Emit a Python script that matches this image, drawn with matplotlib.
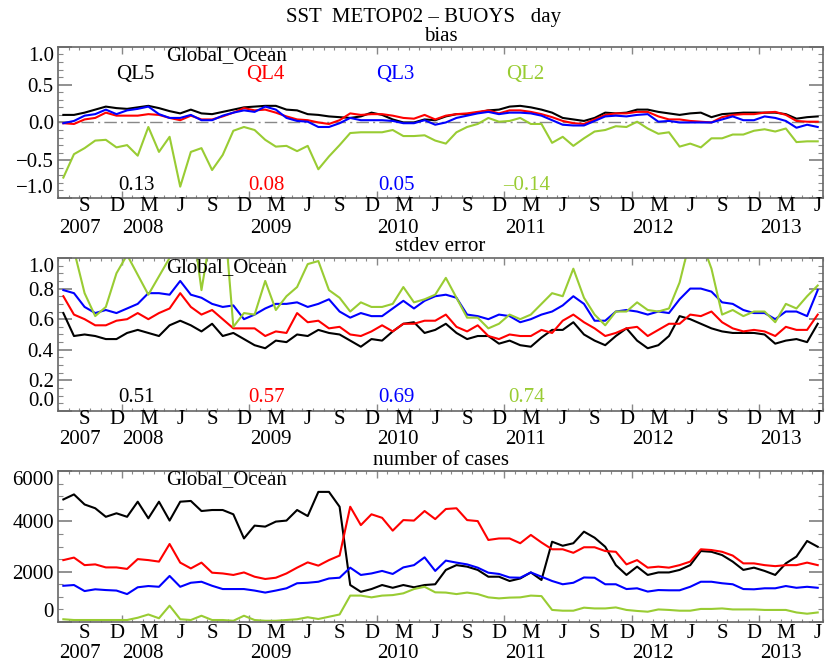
import numpy as np
import matplotlib.pyplot as plt
from matplotlib.ticker import MultipleLocator, FixedLocator

plt.rcParams['font.family'] = ['Liberation Serif', 'DejaVu Serif']
plt.rcParams['font.size'] = 15

# monthly values, Jul 2007 .. Jun 2013
start_year, start_month = 2007, 7
n_months = 72

names = ['QL5', 'QL4', 'QL3', 'QL2']
colors = ['black', '#ff0000', '#0000ff', '#99cc33']

bias_ql5 = [0.10, 0.10, 0.13, 0.17, 0.21, 0.19, 0.18, 0.20, 0.22, 0.19, 0.15, 0.12,
            0.17, 0.12, 0.11, 0.14, 0.17, 0.20, 0.21, 0.22, 0.22, 0.17, 0.16, 0.11,
            0.10, 0.08, 0.07, 0.06, 0.08, 0.13, 0.10, 0.04, 0.00, 0.00, 0.04, 0.03,
            0.08, 0.11, 0.11, 0.13, 0.16, 0.17, 0.21, 0.22, 0.20, 0.17, 0.13, 0.06,
            0.04, 0.02, 0.06, 0.13, 0.12, 0.13, 0.17, 0.17, 0.14, 0.12, 0.10, 0.12,
            0.13, 0.07, 0.11, 0.12, 0.13, 0.13, 0.13, 0.13, 0.11, 0.05, 0.07, 0.08]
bias_ql4 = [-0.01, -0.02, 0.04, 0.06, 0.13, 0.09, 0.09, 0.09, 0.11, 0.10, 0.06, 0.03,
            0.09, 0.04, 0.04, 0.08, 0.13, 0.19, 0.16, 0.17, 0.13, 0.08, 0.04, 0.03,
            0.00, -0.02, 0.03, 0.12, 0.10, 0.11, 0.11, 0.09, 0.06, 0.05, 0.10, 0.04,
            0.09, 0.11, 0.12, 0.14, 0.16, 0.12, 0.16, 0.16, 0.14, 0.11, 0.07, 0.02,
            -0.01, -0.02, 0.04, 0.10, 0.12, 0.12, 0.14, 0.14, 0.08, 0.04, 0.04, 0.02,
            0.01, 0.00, 0.07, 0.10, 0.11, 0.11, 0.13, 0.14, 0.10, 0.02, 0.01, 0.01]
bias_ql3 = [-0.01, 0.02, 0.09, 0.11, 0.17, 0.11, 0.16, 0.18, 0.21, 0.11, 0.06, 0.06,
            0.10, 0.03, 0.03, 0.09, 0.13, 0.16, 0.14, 0.21, 0.17, 0.06, 0.02, 0.01,
            -0.06, -0.06, -0.01, 0.06, 0.03, 0.03, 0.03, 0.02, -0.01, -0.01, 0.03, -0.03,
            0.00, 0.06, 0.09, 0.12, 0.14, 0.11, 0.13, 0.13, 0.12, 0.09, 0.03, -0.03,
            -0.04, -0.04, 0.02, 0.08, 0.09, 0.08, 0.10, 0.11, 0.01, 0.02, 0.00, 0.00,
            0.00, 0.00, 0.04, 0.08, 0.03, 0.03, 0.08, 0.06, 0.02, -0.07, -0.03, -0.06]
bias_ql2 = [-0.73, -0.42, -0.34, -0.24, -0.23, -0.33, -0.30, -0.44, -0.06, -0.39, -0.19, -0.85,
            -0.39, -0.34, -0.63, -0.43, -0.11, -0.06, -0.10, -0.23, -0.32, -0.31, -0.38, -0.31,
            -0.62, -0.45, -0.30, -0.14, -0.13, -0.13, -0.13, -0.10, -0.18, -0.18, -0.17, -0.24,
            -0.28, -0.13, -0.06, -0.02, 0.06, 0.01, 0.02, 0.06, -0.02, -0.02, -0.27, -0.19,
            -0.31, -0.21, -0.12, -0.10, -0.05, -0.06, 0.01, -0.08, -0.15, -0.13, -0.32, -0.28,
            -0.33, -0.21, -0.21, -0.16, -0.16, -0.11, -0.09, -0.12, -0.08, -0.26, -0.25, -0.25]

std_ql5 = [0.64, 0.49, 0.50, 0.49, 0.47, 0.47, 0.51, 0.53, 0.51, 0.49, 0.56, 0.59,
           0.56, 0.52, 0.57, 0.49, 0.51, 0.47, 0.43, 0.41, 0.46, 0.45, 0.50, 0.49,
           0.53, 0.51, 0.50, 0.46, 0.42, 0.47, 0.46, 0.52, 0.57, 0.58, 0.51, 0.53,
           0.57, 0.51, 0.47, 0.49, 0.49, 0.44, 0.46, 0.43, 0.42, 0.48, 0.53, 0.53,
           0.58, 0.50, 0.46, 0.43, 0.49, 0.54, 0.46, 0.41, 0.43, 0.49, 0.62, 0.60,
           0.57, 0.54, 0.52, 0.51, 0.51, 0.51, 0.50, 0.44, 0.46, 0.47, 0.45, 0.57]
std_ql4 = [0.75, 0.63, 0.60, 0.56, 0.56, 0.59, 0.60, 0.64, 0.60, 0.64, 0.67, 0.77,
           0.68, 0.63, 0.66, 0.60, 0.54, 0.54, 0.54, 0.49, 0.52, 0.51, 0.64, 0.58,
           0.59, 0.54, 0.55, 0.50, 0.49, 0.52, 0.56, 0.52, 0.57, 0.57, 0.59, 0.59,
           0.63, 0.55, 0.52, 0.56, 0.49, 0.47, 0.50, 0.49, 0.49, 0.53, 0.51, 0.59,
           0.63, 0.58, 0.54, 0.49, 0.51, 0.54, 0.55, 0.49, 0.53, 0.57, 0.57, 0.63,
           0.62, 0.65, 0.58, 0.54, 0.52, 0.53, 0.52, 0.49, 0.55, 0.53, 0.53, 0.63]
std_ql3 = [0.79, 0.77, 0.68, 0.64, 0.66, 0.64, 0.67, 0.70, 0.77, 0.77, 0.76, 0.85,
           0.76, 0.74, 0.70, 0.68, 0.69, 0.60, 0.63, 0.67, 0.70, 0.70, 0.71, 0.68,
           0.70, 0.73, 0.65, 0.61, 0.64, 0.62, 0.62, 0.67, 0.72, 0.67, 0.72, 0.75,
           0.76, 0.74, 0.63, 0.62, 0.60, 0.63, 0.62, 0.58, 0.60, 0.63, 0.65, 0.69,
           0.75, 0.70, 0.59, 0.59, 0.65, 0.66, 0.65, 0.63, 0.65, 0.64, 0.73, 0.80,
           0.80, 0.78, 0.71, 0.70, 0.66, 0.64, 0.64, 0.60, 0.65, 0.65, 0.62, 0.79]
std_ql2 = [1.25, 1.05, 0.77, 0.62, 0.68, 0.90, 1.02, 0.89, 0.76, 0.88, 1.00, 1.15,
           1.32, 0.79, 1.21, 1.40, 0.55, 0.64, 0.63, 0.85, 0.66, 0.75, 0.81, 0.96,
           0.98, 0.79, 0.74, 0.65, 0.71, 0.68, 0.68, 0.70, 0.81, 0.71, 0.73, 0.76,
           0.87, 0.74, 0.61, 0.61, 0.54, 0.57, 0.63, 0.60, 0.63, 0.70, 0.77, 0.75,
           0.93, 0.74, 0.63, 0.56, 0.65, 0.65, 0.71, 0.66, 0.65, 0.67, 0.84, 1.12,
           1.12, 0.93, 0.63, 0.66, 0.62, 0.65, 0.65, 0.58, 0.70, 0.67, 0.75, 0.82]

cases_ql5 = [4870, 5070, 4670, 4520, 4180, 4320, 4180, 4780, 4120, 4780, 4030, 4780,
             4810, 4410, 4450, 4450, 4280, 3320, 3830, 3790, 3990, 4030, 4450, 4210,
             5170, 5170, 4580, 1470, 1200, 1310, 1470, 1360, 1470, 1380, 1470, 1500,
             2070, 2260, 2200, 2070, 1800, 1800, 1630, 1730, 1970, 1670, 3190, 3030,
             3130, 3590, 3350, 2990, 2260, 1870, 2200, 1870, 1970, 1970, 2070, 2260,
             2820, 2790, 2660, 2400, 2070, 2160, 2030, 1870, 2330, 2600, 3220, 2990]
cases_ql4 = [2460, 2560, 2260, 2290, 2170, 2170, 2110, 2500, 2460, 2400, 3100, 2360,
             2130, 2360, 1960, 1930, 1870, 1970, 1800, 1710, 1760, 1930, 2160, 2370,
             2240, 2460, 2640, 4580, 3850, 4280, 4140, 3630, 4050, 4030, 4410, 4090,
             4490, 4520, 4050, 4010, 3260, 3320, 3320, 3130, 3460, 3160, 2890, 2890,
             2750, 2970, 2970, 2820, 2790, 2290, 2460, 2160, 2200, 2160, 2260, 2400,
             2890, 2860, 2790, 2640, 2330, 2330, 2260, 2220, 2260, 2260, 2360, 2260]
cases_ql3 = [1440, 1470, 1230, 1300, 1270, 1250, 1110, 1380, 1430, 1400, 1830, 1400,
             1560, 1600, 1440, 1310, 1310, 1310, 1250, 1170, 1250, 1340, 1540, 1560,
             1600, 1730, 1760, 2160, 1870, 1930, 2030, 1910, 2170, 2260, 2570, 2030,
             2440, 2360, 2290, 2160, 1960, 1910, 1770, 1760, 1970, 1800, 1630, 1500,
             1560, 1770, 1760, 1500, 1500, 1310, 1340, 1210, 1270, 1260, 1260, 1400,
             1600, 1600, 1540, 1500, 1310, 1300, 1340, 1340, 1430, 1360, 1400, 1360]
cases_ql2 = [110, 80, 80, 80, 80, 80, 80, 170, 300, 150, 650, 110,
             80, 250, 80, 80, 50, 250, 80, 50, 50, 80, 110, 190,
             120, 210, 300, 1050, 1050, 980, 1050, 1070, 1140, 1310, 1400, 1180,
             1170, 1110, 1170, 1110, 980, 940, 970, 980, 1050, 1030, 480, 450,
             450, 570, 540, 540, 580, 480, 440, 410, 500, 480, 450, 450,
             520, 520, 540, 500, 500, 500, 480, 480, 480, 380, 330, 380]

bias_means = ['0.13', '0.08', '0.05', '\u20130.14']
std_means = ['0.51', '0.57', '0.69', '0.74']

month_letters = {3: 'M', 6: 'J', 9: 'S', 12: 'D'}
years = [2007, 2008, 2009, 2010, 2011, 2012, 2013]

t = start_year + (start_month - 1 + np.arange(n_months) + 0.5) / 12.0
t0, t1 = 2007.5, 2013.5

tick_col = '#888888'


def style_axes(ax, ylim, yticks, ylabels, yminor, month_off, year_off):
    ax.set_xlim(t0, t1)
    ax.set_ylim(*ylim)
    ax.xaxis.set_major_locator(FixedLocator(np.arange(2008, 2014)))
    ax.xaxis.set_minor_locator(FixedLocator(t0 + np.arange(0, 73) / 12.0))
    ax.set_yticks(yticks)
    ax.set_yticklabels(ylabels)
    ax.yaxis.set_minor_locator(MultipleLocator(yminor))
    ax.tick_params(which='both', direction='in', top=True, right=True,
                   color=tick_col, labelbottom=False, pad=3)
    ax.tick_params(axis='y', which='major', length=10, width=1.3)
    ax.tick_params(axis='y', which='minor', length=3.5, width=0.8)
    ax.tick_params(axis='x', which='major', length=5, width=1.0)
    ax.tick_params(axis='x', which='minor', length=2.5, width=0.8)
    for sp in ax.spines.values():
        sp.set_color('#666666')
        sp.set_linewidth(1.2)
    ticks = ax.yaxis.get_major_ticks()
    ticks[0].label1.set_verticalalignment('bottom')
    ticks[-1].label1.set_verticalalignment('top')

    tr = ax.get_xaxis_transform()
    h = ax.get_position().height * fig.get_figheight() * fig.dpi
    for y in years:
        for m in (3, 6, 9, 12):
            pos = y + (m - 0.5) / 12.0
            if t0 < pos < t1:
                ax.text(pos, -month_off / h, month_letters[m], transform=tr,
                        ha='center', va='center')
        ax.text(max(y, t0) + 0.005, -year_off / h, str(y), transform=tr,
                ha='left', va='center')
    ax.text(0.22, 0.94, 'Global_Ocean', transform=ax.transAxes,
            ha='center', va='center')


fig = plt.figure(figsize=(8.29, 6.63), dpi=100)
ax1 = fig.add_axes([0.070, 0.7014, 0.9228, 0.2278])
ax2 = fig.add_axes([0.070, 0.3801, 0.9228, 0.2308])
ax3 = fig.add_axes([0.070, 0.0618, 0.9228, 0.2278])

# bias
ax1.axhline(0, color='#888888', lw=1.0, ls=(0, (9, 3, 1.5, 3)))
for vals, c in zip([bias_ql5, bias_ql4, bias_ql3, bias_ql2], colors):
    ax1.plot(t, vals, color=c, lw=1.5)
style_axes(ax1, (-1.0, 1.0), [-1.0, -0.5, 0.0, 0.5, 1.0],
           ['\u22121.0', '\u22120.5', '0.0', '0.5', '1.0'], 0.1, 9, 31)
for k, (name, c) in enumerate(zip(names, colors)):
    xc = [0.101, 0.271, 0.441, 0.611][k]
    ax1.text(xc, 0.82, name, color=c, transform=ax1.transAxes, ha='center', va='center')
    ax1.text(xc + 0.002, 0.08, bias_means[k], color=c, transform=ax1.transAxes,
             ha='center', va='center')

# stdev
for vals, c in zip([std_ql5, std_ql4, std_ql3, std_ql2], colors):
    ax2.plot(t, vals, color=c, lw=1.5)
style_axes(ax2, (0.0, 1.0), [0.0, 0.2, 0.4, 0.6, 0.8, 1.0],
           ['0.0', '0.2', '0.4', '0.6', '0.8', '1.0'], 0.05, 9, 29)
for k, c in enumerate(colors):
    xc = [0.103, 0.273, 0.443, 0.613][k]
    ax2.text(xc, 0.09, std_means[k], color=c, transform=ax2.transAxes,
             ha='center', va='center')

# number of cases
for vals, c in zip([cases_ql5, cases_ql4, cases_ql3, cases_ql2], colors):
    ax3.plot(t, vals, color=c, lw=1.5)
style_axes(ax3, (0, 6000), [0, 2000, 4000, 6000],
           ['0', '2000', '4000', '6000'], 500, 11, 31)

fig.text(0.511, 0.973, 'SST  METOP02 \u2013 BUOYS   day', ha='center', va='center')
fig.text(0.532, 0.945, 'bias', ha='center', va='center')
fig.text(0.531, 0.628, 'stdev error', ha='center', va='center')
fig.text(0.532, 0.306, 'number of cases', ha='center', va='center')

fig.savefig('out.png', dpi=100)
